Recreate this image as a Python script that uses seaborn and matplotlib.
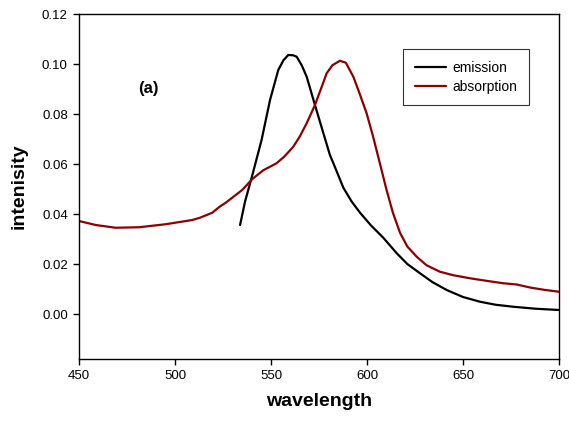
import pandas as pd
import matplotlib
matplotlib.use("Agg")
import matplotlib.pyplot as plt
import seaborn as sns

# emission spectrum
em_wl = [533.9, 536.5, 540.0, 545.1, 549.5, 553.8, 556.5, 559.0, 561.5, 563.4, 566.0,
         568.6, 572.9, 577.3, 580.7, 582.5, 587.7, 592.0, 596.4, 602.0, 608.5, 615.5,
         621.0, 627.6, 634.0, 641.5, 650.0, 658.9, 667.0, 676.2, 688.0, 700.0]
em_int = [0.0356, 0.0450, 0.0547, 0.0696, 0.0856, 0.0976, 0.1015, 0.1036, 0.1035, 0.1029, 0.0995,
          0.0949, 0.0836, 0.0723, 0.0636, 0.0603, 0.0505, 0.0450, 0.0405, 0.0355, 0.0305, 0.0243,
          0.0200, 0.0163, 0.0128, 0.0096, 0.0068, 0.0049, 0.0037, 0.0029, 0.0021, 0.0016]

# absorption spectrum
ab_wl = [450.0, 458.7, 469.1, 481.3, 495.1, 509.0, 513.0, 519.4, 523.4, 526.4, 535.0,
         540.3, 546.0, 552.9, 557.0, 561.6, 565.0, 568.6, 572.9, 576.0, 579.0, 582.0,
         585.9, 589.0, 592.9, 596.0, 599.8, 603.0, 606.8, 610.2, 613.5, 617.2, 621.0,
         625.9, 631.0, 638.0, 645.0, 653.6, 662.0, 671.0, 678.0, 684.9, 692.0, 700.0]
ab_int = [0.0372, 0.0356, 0.0345, 0.0347, 0.0359, 0.0376, 0.0385, 0.0405, 0.0430, 0.0445, 0.0496,
          0.0540, 0.0575, 0.0603, 0.0630, 0.0669, 0.0710, 0.0763, 0.0836, 0.0900, 0.0963, 0.0995,
          0.1013, 0.1005, 0.0949, 0.0885, 0.0803, 0.0715, 0.0600, 0.0496, 0.0405, 0.0325, 0.0270,
          0.0229, 0.0195, 0.0169, 0.0155, 0.0143, 0.0133, 0.0123, 0.0118, 0.0106, 0.0097, 0.0089]

df = pd.concat([
    pd.DataFrame({"wavelength": em_wl, "intensity": em_int, "series": "emission"}),
    pd.DataFrame({"wavelength": ab_wl, "intensity": ab_int, "series": "absorption"}),
])

sns.set_style("white")
plt.rcParams["font.family"] = ["Liberation Sans", "DejaVu Sans"]
plt.rcParams["text.color"] = "black"
plt.rcParams["axes.labelcolor"] = "black"

fig = plt.figure(figsize=(5.69, 4.23), dpi=100)
ax = fig.add_axes([0.1388, 0.1513, 0.8436, 0.8156])

sns.lineplot(data=df, x="wavelength", y="intensity", hue="series",
             palette={"emission": "black", "absorption": "#8b0000"},
             estimator=None, sort=False, linewidth=1.6, ax=ax)

ax.set_xlim(450, 700)
ax.set_ylim(-0.018, 0.12)
ax.set_xticks([450, 500, 550, 600, 650, 700])
ax.set_yticks([0.00, 0.02, 0.04, 0.06, 0.08, 0.10, 0.12])
ax.set_yticklabels([f"{v:.2f}" for v in [0.00, 0.02, 0.04, 0.06, 0.08, 0.10, 0.12]])
ax.tick_params(axis="both", direction="out", length=4.5, width=1, labelsize=9.5,
               bottom=True, left=True, top=False, right=False, colors="black")
for s in ax.spines.values():
    s.set_color("black")
    s.set_linewidth(1)

ax.set_xlabel("wavelength", fontsize=14, fontweight="bold", labelpad=8)
ax.set_ylabel("intenisity", fontsize=14, fontweight="bold", labelpad=10)
ax.text(486, 0.0904, "(a)", fontsize=12, fontweight="bold", ha="center", va="center")

leg = ax.legend(loc="upper right", bbox_to_anchor=(0.937, 0.899), borderaxespad=0,
                fontsize=10, frameon=True, fancybox=False, handlelength=2.2,
                borderpad=0.85, labelspacing=0.35, handletextpad=0.45)
leg.get_frame().set_edgecolor("black")
leg.get_frame().set_linewidth(0.8)
for line in leg.get_lines():
    line.set_linewidth(1.6)

fig.savefig("out.png", dpi=100)
